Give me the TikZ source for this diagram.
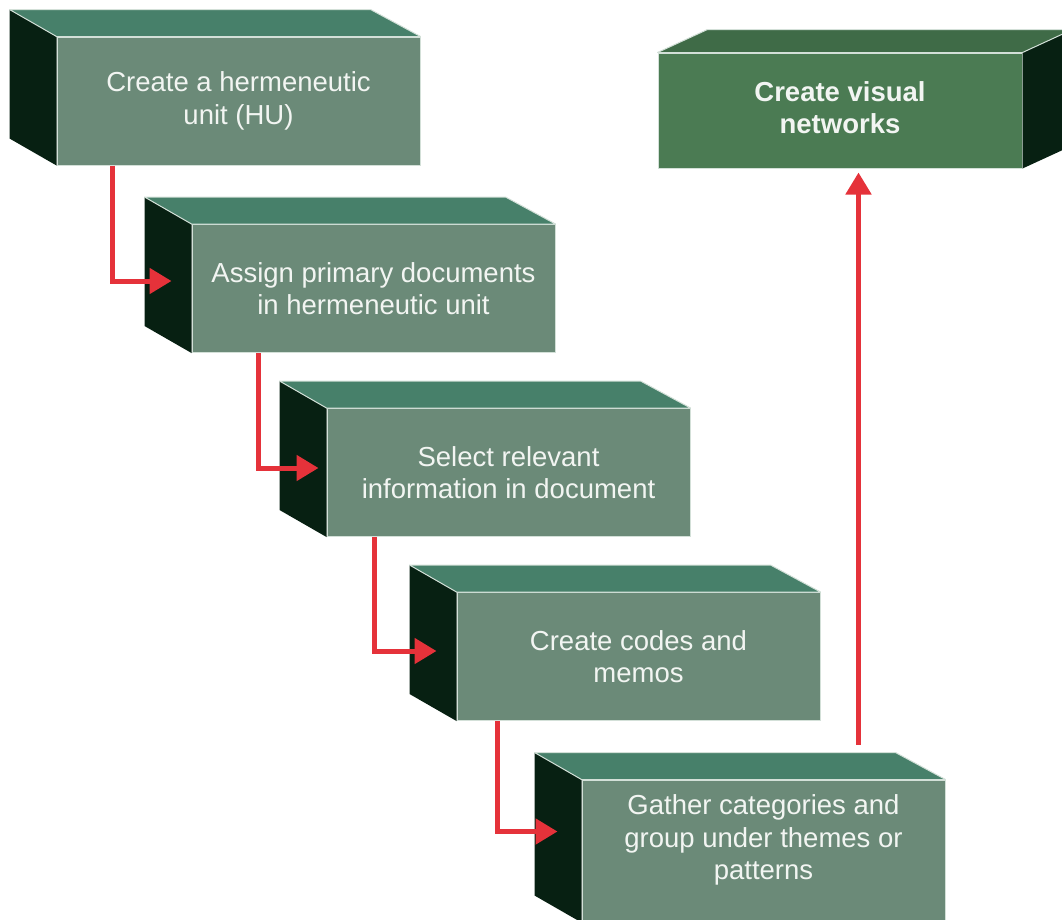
\documentclass[tikz,border=0pt]{standalone}
\usepackage{fontspec}
\setmainfont{Liberation Sans}
\usetikzlibrary{arrows.meta}

\definecolor{frontc}{HTML}{6B8A78}
\definecolor{topc}{HTML}{47806A}
\definecolor{sidec}{HTML}{072012}
\definecolor{netfront}{HTML}{4B7B53}
\definecolor{nettop}{HTML}{3F6B47}
\definecolor{edgec}{HTML}{D3E0D8}
\definecolor{arrowc}{HTML}{E5323A}
\definecolor{txtc}{HTML}{F2F5F2}

\begin{document}
\begin{tikzpicture}[x=1pt,y=-1pt,
  face/.style={fill=frontc,draw=edgec,line width=1pt,minimum width=363pt,
               minimum height=128pt,inner sep=0pt},
  topface/.style={fill=topc,draw=edgec,line width=1pt,line join=round},
  sideface/.style={fill=sidec},
  lbl/.style={text=txtc,align=center,font=\fontsize{27.5}{32.5}\selectfont},
  arr/.style={draw=arrowc,line width=5pt,
              -{Triangle[length=22pt,width=25pt]}}]

\clip (0,0) rectangle (1062,919);
\useasboundingbox (0,0) rectangle (1062,919);

% ---------- descending steps: front face, top face, left side face ----------
\foreach \nm/\cx/\cy/\h in {f1/238.5/101/128, f2/373.5/288.5/128,
                            f3/508.5/472.5/128, f4/638.5/656.5/128,
                            f5/763.5/851/142}{
  \node[face,minimum height=\h pt] (\nm) at (\cx,\cy) {};
  \fill[sideface] (\nm.north west) -- ++(-47,-27)
        -- ([shift={(-47,-27)}]\nm.south west) -- (\nm.south west) -- cycle;
  \filldraw[topface] (\nm.north west) -- ++(-47,-27)
        -- ([shift={(-50,-27)}]\nm.north east) -- (\nm.north east) -- cycle;
}

% ---------- final box, side face to the right ----------
\node[face,fill=netfront,minimum width=364pt,minimum height=115pt] (f6) at (840,110.5) {};
\fill[sideface] (f6.north east) -- ++(50,-23)
      -- ([shift={(50,-23)}]f6.south east) -- (f6.south east) -- cycle;
\filldraw[topface,fill=nettop] (f6.north west) -- ++(50,-23)
      -- ([shift={(50,-23)}]f6.north east) -- (f6.north east) -- cycle;

% ---------- texts ----------
\node[lbl] (t1) at (f1) {Create a hermeneutic\\unit (HU)};
\node[lbl] (t2) at (f2) {Assign primary documents\\in hermeneutic unit};
\node[lbl] (t3) at (f3) {Select relevant\\information in document};
\node[lbl] (t4) at (f4) {Create codes and\\memos};
\node[lbl] (t5) at (763.5,840) {Gather categories and\\group under themes or\\patterns};
\node[lbl,font=\fontsize{27.5}{32.5}\selectfont\bfseries] (t6) at ([yshift=3pt]f6.center) {Create visual\\networks};

% ---------- connectors ----------
\coordinate (s2) at ([shift={(-20,57)}]f2.north west);
\coordinate (s3) at ([shift={(-8,60)}]f3.north west);
\coordinate (s4) at ([shift={(-20,59)}]f4.north west);
\coordinate (s5) at ([shift={(-24,52)}]f5.north west);
\coordinate (a5) at ([shift={(277,-35)}]f5.north west);

\draw[arr] ([xshift=56pt]f1.south west) |- (s2);
\draw[arr] ([xshift=67pt]f2.south west) |- (s3);
\draw[arr] ([xshift=48pt]f3.south west) |- (s4);
\draw[arr] ([xshift=41pt]f4.south west) |- (s5);
\draw[arr,shorten >=4pt] (a5) -- (a5 |- f6.south);
\end{tikzpicture}
\end{document}
